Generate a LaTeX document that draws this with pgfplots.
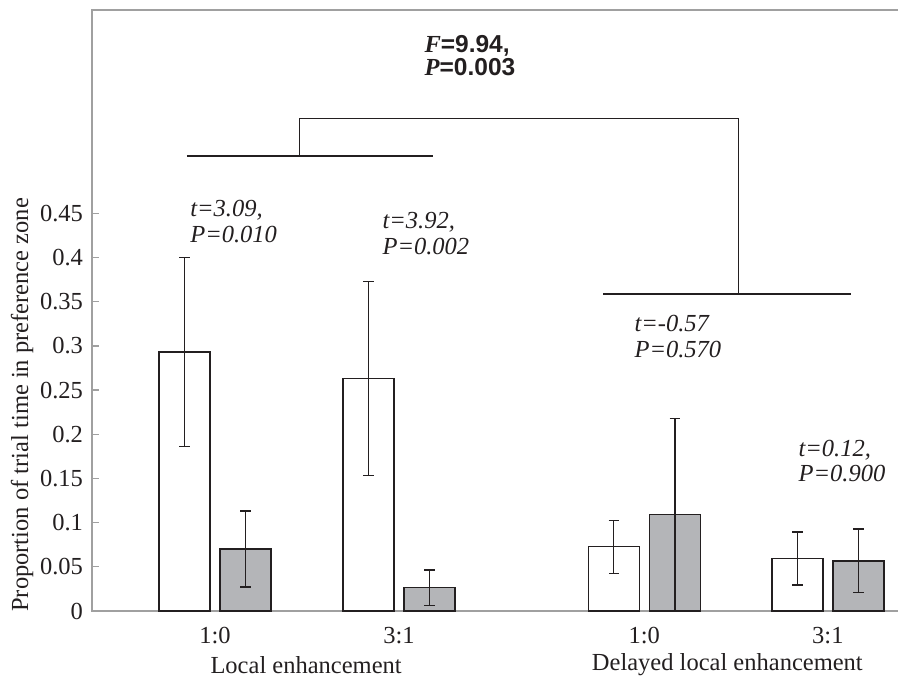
\documentclass[border=0pt]{standalone}
\usepackage{fontspec}
\setmainfont{Liberation Serif}
\setsansfont{Liberation Sans}
\usepackage{pgfplots}
\usepackage{pgfplotstable}
\pgfplotsset{compat=1.18}
\definecolor{axgray}{RGB}{160,160,160}
\definecolor{barfill}{RGB}{180,181,184}
\definecolor{ink}{RGB}{35,31,32}
\pgfplotstableread{
x y e
1 0.293 0.107
2 0.263 0.110
3.332 0.0727 0.030
4.329 0.0595 0.030
}\whitedata
\pgfplotstableread{
x y e
1 0.070 0.043
2 0.0264 0.020
3.332 0.109 0.109
4.329 0.0566 0.036
}\graydata
\begin{document}
\begin{tikzpicture}
\begin{axis}[
  scale only axis,
  width=403bp, height=300.5bp,
  xmin=0.332, xmax=4.71,
  ymin=0, ymax=0.68,
  clip=false,
  axis line style={draw=none},
  ytick={0,0.05,0.1,0.15,0.2,0.25,0.3,0.35,0.4,0.45},
  yticklabels={0,0.05,0.1,0.15,0.2,0.25,0.3,0.35,0.4,0.45},
  xtick={1,2,3.332,4.329},
  xticklabels={1:0,3:1,1:0,3:1},
  /pgf/number format/assume math mode=true,
  ytick pos=left, xtick pos=bottom,
  tick align=inside,
  major tick length=3.5bp,
  major y tick style={axgray, line width=0.7bp},
  major x tick style={draw=none},
  ticklabel style={font=\fontsize{12.3}{14}\selectfont, text=ink},
  yticklabel style={xshift=-1bp},
  xticklabel style={yshift=-1bp},
  ylabel={Proportion of trial time in preference zone},
  ylabel style={at={(axis description cs:-0.0868,0.343)}, anchor=center, font=\fontsize{12.3}{14}\selectfont, text=ink},
  ybar, bar width=0.277,
  error bars/error bar style={ink, line width=0.7bp},
  error bars/error mark options={rotate=90, mark size=2.6bp, ink, line width=0.7bp},
]
\draw[axgray, line width=0.9bp] (rel axis cs:1,1) -- (rel axis cs:0,1) -- (rel axis cs:0,0) -- (rel axis cs:1,0);
\addplot[bar shift=-0.166, draw=ink, fill=white, line width=0.7bp,
  error bars/.cd, y dir=both, y explicit]
  table[x=x, y=y, y error=e] {\whitedata};
\addplot[bar shift=0.166, draw=ink, fill=barfill, line width=0.7bp,
  error bars/.cd, y dir=both, y explicit]
  table[x=x, y=y, y error=e] {\graydata};
% brackets
\draw[ink, line width=0.7bp] (axis cs:0.848,0.515) -- (axis cs:2.185,0.515);
\draw[ink, line width=0.7bp] (axis cs:1.458,0.515) -- (axis cs:1.458,0.557) -- (axis cs:3.844,0.557) -- (axis cs:3.844,0.3585);
\draw[ink, line width=0.7bp] (axis cs:3.110,0.3585) -- (axis cs:4.457,0.3585);
% annotations
\begin{scope}[every node/.style={font=\fontsize{12.3}{14}\selectfont, text=ink, anchor=west, inner sep=0pt}]
\node at (axis cs:2.136,0.640) {\textbf{\textit{F}}{\sffamily\bfseries =9.94,}};
\node at (axis cs:2.136,0.615) {\textbf{\textit{P}}{\sffamily\bfseries =0.003}};
\node at (axis cs:0.864,0.4535) {\textit{t=3.09,}};
\node at (axis cs:0.864,0.4264) {\textit{P=0.010}};
\node at (axis cs:1.908,0.440) {\textit{t=3.92,}};
\node at (axis cs:1.908,0.4128) {\textit{P=0.002}};
\node at (axis cs:3.277,0.3257) {\textit{t=-0.57}};
\node at (axis cs:3.277,0.2963) {\textit{P=0.570}};
\node at (axis cs:4.168,0.1821) {\textit{t=0.12,}};
\node at (axis cs:4.168,0.155) {\textit{P=0.900}};
\end{scope}
\node[font=\fontsize{12.3}{14}\selectfont, text=ink, anchor=center] at ([yshift=-27bp]axis cs:1.495,0) {Local enhancement};
\node[font=\fontsize{12.3}{14}\selectfont, text=ink, anchor=center] at ([yshift=-27bp]axis cs:3.783,0) {Delayed local enhancement};
\end{axis}
\pgfresetboundingbox
\useasboundingbox ([xshift=-46bp,yshift=-32.5bp]current axis.south west) rectangle ([yshift=5bp]current axis.north east);
\end{tikzpicture}
\end{document}
